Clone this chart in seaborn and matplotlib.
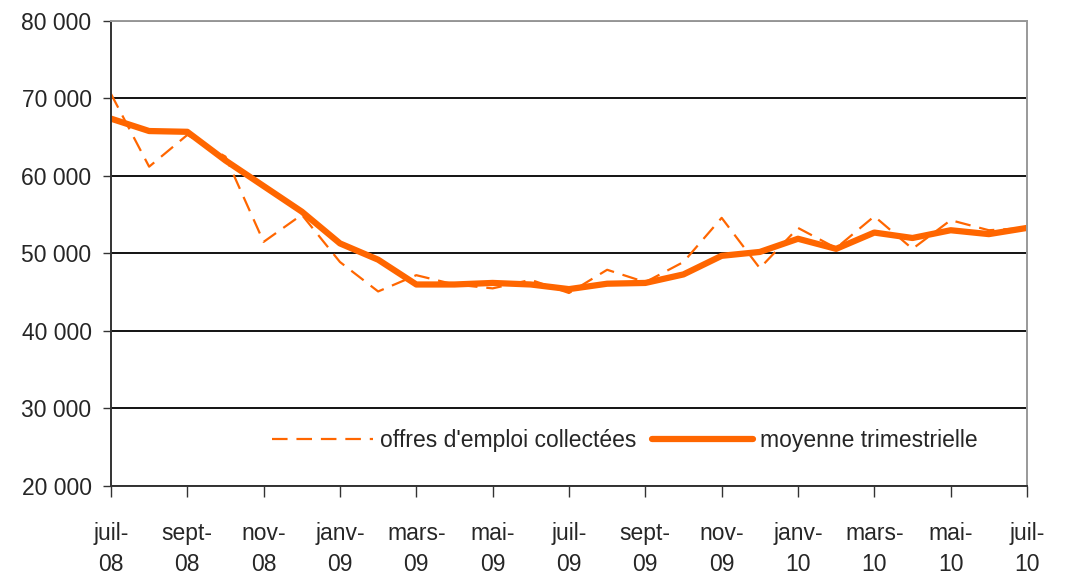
import matplotlib
matplotlib.use('Agg')
import matplotlib.pyplot as plt
import seaborn as sns
import pandas as pd

# monthly data juil-08 .. juil-10
mois = ['juil-08', 'août-08', 'sept-08', 'oct-08', 'nov-08', 'déc-08',
        'janv-09', 'févr-09', 'mars-09', 'avr-09', 'mai-09', 'juin-09',
        'juil-09', 'août-09', 'sept-09', 'oct-09', 'nov-09', 'déc-09',
        'janv-10', 'févr-10', 'mars-10', 'avr-10', 'mai-10', 'juin-10', 'juil-10']
offres = [70600, 61200, 65300, 62500, 51500, 55000,
          48900, 45100, 47200, 46000, 45500, 46600,
          44900, 47900, 46300, 48900, 54600, 48100,
          53300, 50700, 54800, 50600, 54300, 53000, 53300]
moyenne = [67400, 65800, 65700, 62000, 58700, 55400,
           51300, 49200, 46000, 46000, 46200, 46000,
           45400, 46100, 46200, 47300, 49700, 50200,
           51900, 50600, 52700, 52000, 53000, 52500, 53300]
tick_labels = ['juil-\n08', 'sept-\n08', 'nov-\n08', 'janv-\n09', 'mars-\n09', 'mai-\n09',
               'juil-\n09', 'sept-\n09', 'nov-\n09', 'janv-\n10', 'mars-\n10', 'mai-\n10', 'juil-\n10']
y_ticks = [20000, 30000, 40000, 50000, 60000, 70000, 80000]

sns.set_style('white')
plt.rcParams['font.family'] = ['Liberation Sans', 'DejaVu Sans']

orange = '#FF6600'
df = pd.DataFrame({'t': range(len(mois)), 'offres': offres, 'moyenne': moyenne})

fig = plt.figure(figsize=(10.68, 5.83), dpi=100)
ax = fig.add_axes([0.1039, 0.1664, 0.8577, 0.7976])

sns.lineplot(data=df, x='t', y='offres', ax=ax, color=orange, linewidth=1.6,
             linestyle=(0, (7, 4)), label="offres d'emploi collectées")
sns.lineplot(data=df, x='t', y='moyenne', ax=ax, color=orange, linewidth=4.5,
             solid_capstyle='round', label='moyenne trimestrielle')

ax.set_xlim(0, len(mois) - 1)
ax.set_ylim(20000, 80000)
ax.set_yticks(y_ticks)
ax.set_yticklabels([f'{v:,}'.replace(',', ' ') for v in y_ticks], fontsize=16.5)
ax.set_xticks(range(0, len(mois), 2))
ax.set_xticklabels(tick_labels, fontsize=16.5, linespacing=1.45)
ax.tick_params(axis='x', length=8, width=1, color='#333333', pad=18, direction='out', bottom=True)
ax.tick_params(axis='y', length=6, width=1, color='#333333', pad=8, direction='out', left=True)
ax.set_xlabel('')
ax.set_ylabel('')

ax.grid(axis='y', color='black', linewidth=1.3)
ax.grid(axis='x', visible=False)
ax.set_axisbelow(True)

ax.spines['left'].set_color('#333333')
ax.spines['bottom'].set_color('#333333')
ax.spines['top'].set_color('#999999')
ax.spines['right'].set_color('#999999')
for s in ax.spines.values():
    s.set_linewidth(1.4)

ax.legend(loc='center', bbox_to_anchor=(0.561, 0.097), ncol=2, frameon=False,
          fontsize=16.5, handlelength=4.4, handletextpad=0.3, columnspacing=0.7)

fig.savefig('out.png', dpi=100)
